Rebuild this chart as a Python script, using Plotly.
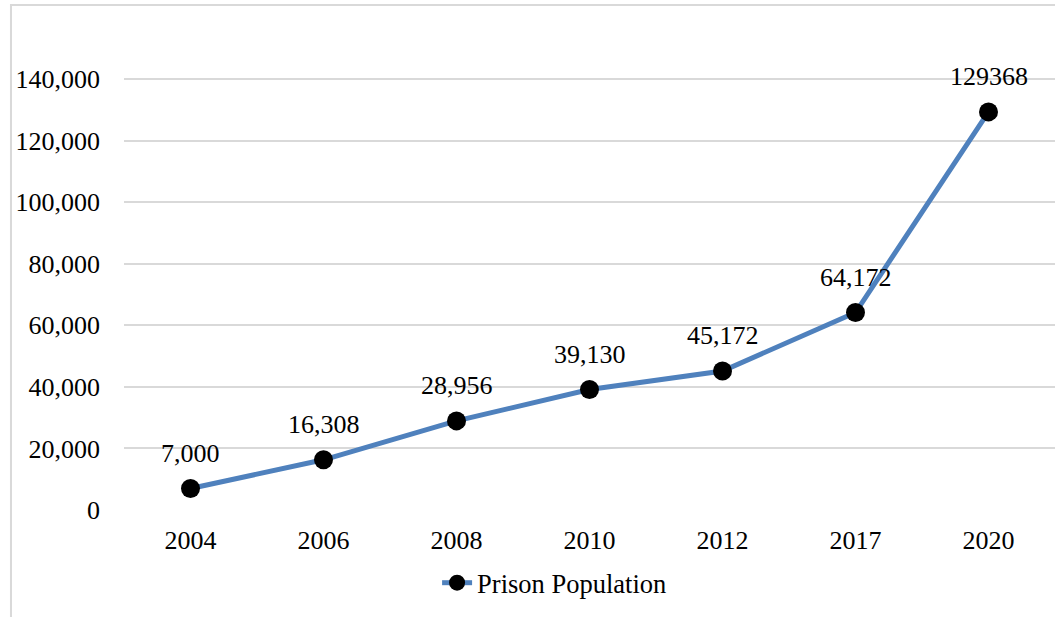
import plotly.graph_objects as go

years = ["2004", "2006", "2008", "2010", "2012", "2017", "2020"]
population = [7000, 16308, 28956, 39130, 45172, 64172, 129368]
labels = ["7,000", "16,308", "28,956", "39,130", "45,172", "64,172", "129368"]
y_ticks = [0, 20000, 40000, 60000, 80000, 100000, 120000, 140000]
y_tick_text = ["0", "20,000", "40,000", "60,000", "80,000", "100,000", "120,000", "140,000"]

FONT = "Liberation Serif"

fig = go.Figure()
fig.add_trace(go.Scatter(
    x=years, y=population, mode="lines+markers",
    name="Prison Population",
    line=dict(color="#4F81BD", width=5),
    marker=dict(color="black", size=19),
    cliponaxis=False,
))

for i, (val, lab) in enumerate(zip(population, labels)):
    fig.add_annotation(x=i, y=val, xref="x", yref="y", text=lab, showarrow=False,
                       yshift=35, font=dict(family=FONT, size=26, color="black"))

fig.update_layout(
    width=1055, height=617,
    margin=dict(l=124, r=0, t=33, b=107),
    paper_bgcolor="white", plot_bgcolor="white",
    font=dict(family=FONT, size=26, color="black"),
    showlegend=True,
    legend=dict(x=0.4625, y=-0.153, xanchor="center", yanchor="middle",
                orientation="h", font=dict(family=FONT, size=26.5),
                bgcolor="rgba(0,0,0,0)"),
    xaxis=dict(type="category", range=[-0.5, 6.5], showgrid=False, showline=False,
               zeroline=False, ticks="", ticklabelstandoff=12,
               tickfont=dict(family=FONT, size=26)),
    yaxis=dict(range=[0, 155000], tickvals=y_ticks, ticktext=y_tick_text,
               showgrid=True, gridcolor="#d9d9d9", gridwidth=2,
               zeroline=False, showline=False, ticks="",
               ticklabelstandoff=23, tickfont=dict(family=FONT, size=26)),
    shapes=[dict(type="rect", xref="paper", yref="paper",
                 x0=-0.1214, x1=1.1, y0=-0.4, y1=1.0587,
                 line=dict(color="#d9d9d9", width=2), layer="below")],
)

fig.write_html("out.html")
